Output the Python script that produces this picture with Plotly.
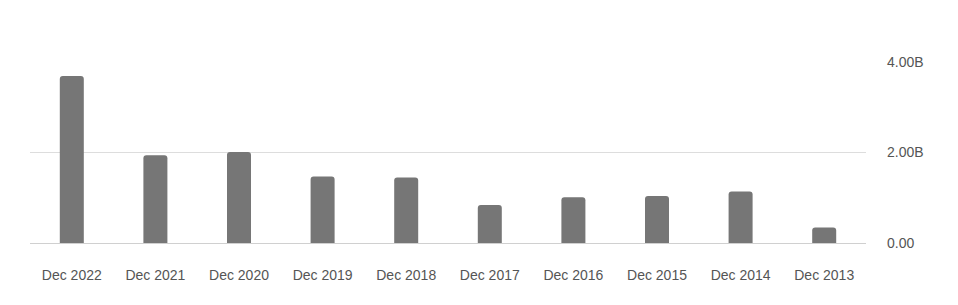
import plotly.graph_objects as go

categories = ["Dec 2022", "Dec 2021", "Dec 2020", "Dec 2019", "Dec 2018",
              "Dec 2017", "Dec 2016", "Dec 2015", "Dec 2014", "Dec 2013"]
values = [3.69e9, 1.94e9, 2.01e9, 1.47e9, 1.45e9, 0.84e9, 1.01e9, 1.04e9, 1.14e9, 0.34e9]
tick_vals = [0, 2e9, 4e9]
tick_text = ["0.00", "2.00B", "4.00B"]

fig = go.Figure(go.Bar(
    x=categories, y=values,
    marker=dict(color="#767676", cornerradius=3, line=dict(width=0)),
    hoverinfo="x+y",
))

fig.update_layout(
    width=958, height=305,
    margin=dict(l=30, r=92, t=62, b=62),
    paper_bgcolor="white", plot_bgcolor="white",
    bargap=0.713,
    showlegend=False,
    font=dict(family="Arial, Liberation Sans, sans-serif", size=14, color="#555555"),
)
fig.update_xaxes(
    showgrid=False, showline=False, zeroline=False,
    ticks="", ticklabelstandoff=22,
    tickfont=dict(size=14, color="#555555"),
    automargin=False,
)
fig.update_yaxes(
    side="right", range=[0, 4e9],
    tickvals=tick_vals, ticktext=tick_text,
    showgrid=True, gridcolor="#dddddd", gridwidth=1,
    zeroline=True, zerolinecolor="#d0d0d0", zerolinewidth=1,
    showline=False, ticks="", ticklabelstandoff=20,
    tickfont=dict(size=14, color="#555555"),
    automargin=False,
)

fig.write_html("out.html")
